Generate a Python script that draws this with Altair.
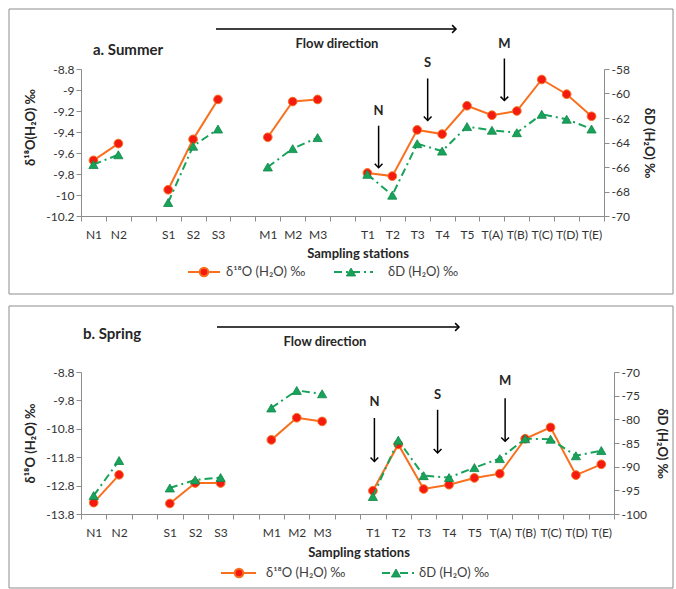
import altair as alt
import pandas as pd

FONT = "Lato"
ORANGE = "#F8701E"
RED = "#F41A10"
GREEN = "#17A35A"
GREEN_DARK = "#12874A"
AXIS_GREY = "#8C8C8C"
TEXT = "#262626"

# slot layout of the categorical x axis ("" = empty gap slot)
slots = ["N1", "N2", "", "S1", "S2", "S3", "", "M1", "M2", "M3", "",
         "T1", "T2", "T3", "T4", "T5", "T(A)", "T(B)", "T(C)", "T(D)", "T(E)"]
stations = [s for s in slots if s]

# a. Summer
summer_o18 = [-9.67, -9.51, -9.95, -9.47, -9.09, -9.45, -9.11, -9.09,
              -9.79, -9.82, -9.38, -9.42, -9.15, -9.24, -9.20, -8.90, -9.04, -9.25]
summer_dD = [-65.8, -65.0, -68.9, -64.3, -62.9, -66.0, -64.5, -63.6,
             -66.6, -68.3, -64.1, -64.7, -62.7, -63.0, -63.2, -61.7, -62.1, -62.9]
# b. Spring
spring_o18 = [-13.40, -12.42, -13.43, -12.71, -12.71, -11.19, -10.41, -10.54,
              -12.98, -11.35, -12.92, -12.77, -12.53, -12.38, -11.15, -10.75, -12.43, -12.05]
spring_dD = [-96.1, -88.7, -94.5, -92.8, -92.3, -77.6, -73.9, -74.6,
             -96.3, -84.4, -91.9, -92.3, -90.2, -88.3, -84.1, -84.2, -87.7, -86.6]

# N / S / M arrow annotations (x in slot units, y in left-axis units)
arrow_labels = ["N", "S", "M"]
summer_arrow_x = [11.45, 13.42, 16.5]
summer_arrow_top = [-9.34, -8.89, -8.70]
summer_arrow_bot = [-9.74, -9.29, -9.10]
summer_label_y = [-9.20, -8.74, -8.56]
spring_arrow_x = [11.06, 13.55, 16.21]
spring_arrow_top = [-10.42, -10.13, -9.72]
spring_arrow_bot = [-11.95, -11.65, -11.24]
spring_label_y = [-9.84, -9.60, -9.13]

ONE = pd.DataFrame({"k": [0]})
ARROWHEAD_DOWN = "M-1,-1L0,0L1,-1"
ARROWHEAD_RIGHT = "M-1,-1L0,0L-1,1"


def dtext(txt, x, y, size=13, weight="bold", align="center", color=TEXT):
    return alt.Chart(ONE).mark_text(
        text=txt, fontSize=size, fontWeight=weight, align=align,
        baseline="middle", font=FONT, color=color
    ).encode(x=alt.value(x), y=alt.value(y))


def panel(o18, dD, ldom, lvals, lfmt, rdom, rvals, ltitle, rtitle, W, H,
          ax_x, ax_top, ax_bot, lab_y, deco, rpad, ltitle_y):
    df = pd.DataFrame({
        "station": stations,
        "pos": [slots.index(s) for s in stations],
        "grp": [s[0] for s in stations],
        "o18": o18,
        "dD": dD,
    })
    ann = pd.DataFrame({"ax": ax_x, "top": ax_top, "bot": ax_bot, "ly": lab_y, "lab": arrow_labels})

    xs = alt.Scale(domain=[-0.5, len(slots) - 0.5], nice=False, zero=False)
    ls = alt.Scale(domain=ldom, nice=False, zero=False)
    rs = alt.Scale(domain=rdom, nice=False, zero=False)
    names_js = "[" + ",".join("'%s'" % s for s in slots) + "]"
    xvals = [i - 0.5 for i in range(len(slots) + 1)]
    xaxis = alt.Axis(
        values=xvals, tickCount=len(xvals) + 5,
        labelExpr=names_js + "[datum.value + 0.5] || ''",
        labelOffset=W / len(slots) / 2, labelFlush=False, labelOverlap=False,
        labelPadding=8, title=None, grid=False,
    )
    laxis = alt.Axis(values=lvals, tickCount=len(lvals) + 5, labelOverlap=False,
                     labelExpr="replace(format(datum.value, '%s'), '\u2212', '-')" % lfmt,
                     title=ltitle, grid=False, titlePadding=8, titleY=ltitle_y)
    raxis = alt.Axis(values=rvals, tickCount=len(rvals) + 5, labelOverlap=False,
                     labelExpr="replace(format(datum.value, '~d'), '\u2212', '-')",
                     title=rtitle, grid=False, orient="right", titlePadding=rpad)

    lineL = alt.Chart(df).mark_line(color=ORANGE, strokeWidth=2).encode(
        x=alt.X("pos:Q", scale=xs, axis=xaxis),
        y=alt.Y("o18:Q", scale=ls, axis=laxis),
        detail="grp:N",
    )
    ptsL = alt.Chart(df).mark_point(shape="circle", filled=True, size=75, fill=RED,
                                   stroke=ORANGE, strokeWidth=1, opacity=1).encode(
        x=alt.X("pos:Q", scale=xs), y=alt.Y("o18:Q", scale=ls))
    rule = alt.Chart(ann).mark_rule(color="black", strokeWidth=1.5).encode(
        x=alt.X("ax:Q", scale=xs), y=alt.Y("top:Q", scale=ls), y2="bot:Q")
    head = alt.Chart(ann).mark_point(shape=ARROWHEAD_DOWN, size=60, filled=False,
                                    stroke="black", strokeWidth=1.5, opacity=1).encode(
        x=alt.X("ax:Q", scale=xs), y=alt.Y("bot:Q", scale=ls))
    labs = alt.Chart(ann).mark_text(fontWeight="bold", fontSize=13, font=FONT, color=TEXT,
                                   baseline="middle").encode(
        x=alt.X("ax:Q", scale=xs), y=alt.Y("ly:Q", scale=ls), text="lab:N")
    left = alt.layer(lineL, ptsL, rule, head, labs)

    lineR = alt.Chart(df).mark_line(color=GREEN, strokeWidth=2, strokeDash=[8, 4, 2, 4]).encode(
        x=alt.X("pos:Q", scale=xs),
        y=alt.Y("dD:Q", scale=rs, axis=raxis),
        detail="grp:N",
    )
    ptsR = alt.Chart(df).mark_point(shape="triangle-up", filled=True, size=85, fill=GREEN,
                                   stroke=GREEN_DARK, strokeWidth=0.8, opacity=1).encode(
        x=alt.X("pos:Q", scale=xs), y=alt.Y("dD:Q", scale=rs))
    right = alt.layer(lineR, ptsR)

    d = deco
    box = alt.Chart(ONE).mark_rect(fill="transparent", stroke=AXIS_GREY, strokeWidth=1).encode(
        x=alt.value(-72), x2=alt.value(592), y=alt.value(d["box_top"]), y2=alt.value(d["box_bot"]))
    title = dtext(d["title"], d["title_x"], d["title_y"], size=15, align="left")
    flow_line = alt.Chart(ONE).mark_rule(color="black", strokeWidth=1.5).encode(
        x=alt.value(d["flow_x1"]), x2=alt.value(d["flow_x2"]), y=alt.value(d["flow_y"]))
    flow_head = alt.Chart(ONE).mark_point(shape=ARROWHEAD_RIGHT, size=60, filled=False,
                                         stroke="black", strokeWidth=1.5, opacity=1).encode(
        x=alt.value(d["flow_x2"]), y=alt.value(d["flow_y"]))
    flow_txt = dtext("Flow direction", d["flow_tx"], d["flow_ty"])
    xtitle = dtext("Sampling stations", d["xt_x"], d["xt_y"])
    ly = d["leg_y"]
    legO_line = alt.Chart(ONE).mark_rule(color=ORANGE, strokeWidth=2).encode(
        x=alt.value(d["legO"][0]), x2=alt.value(d["legO"][2]), y=alt.value(ly))
    legO_pt = alt.Chart(ONE).mark_point(shape="circle", filled=True, size=75, fill=RED,
                                       stroke=ORANGE, opacity=1).encode(
        x=alt.value(d["legO"][1]), y=alt.value(ly))
    legO_txt = dtext("δ¹⁸O (H₂O) ‰", d["legO"][3], ly, size=13, weight="normal",
                     align="left", color="#404040")
    legG_line = alt.Chart(ONE).mark_rule(color=GREEN, strokeWidth=2, strokeDash=[8, 4, 2, 4]).encode(
        x=alt.value(d["legG"][0]), x2=alt.value(d["legG"][2]), y=alt.value(ly))
    legG_pt = alt.Chart(ONE).mark_point(shape="triangle-up", filled=True, size=85, fill=GREEN,
                                       stroke=GREEN_DARK, strokeWidth=0.8, opacity=1).encode(
        x=alt.value(d["legG"][1]), y=alt.value(ly))
    legG_txt = dtext("δD (H₂O) ‰", d["legG"][3], ly, size=13, weight="normal",
                     align="left", color="#404040")

    return alt.layer(
        box, left, right, title, flow_line, flow_head, flow_txt, xtitle,
        legO_line, legO_pt, legO_txt, legG_line, legG_pt, legG_txt,
    ).resolve_scale(y="independent").properties(width=W, height=H)


summer = panel(
    summer_o18, summer_dD,
    [-10.2, -8.8], [-10.2, -10.0, -9.8, -9.6, -9.4, -9.2, -9.0, -8.8], ".1~f",
    [-70, -58], [-70, -68, -66, -64, -62, -60, -58],
    "δ¹⁸O(H₂O) ‰", "δD (H₂O) ‰", 523, 147,
    summer_arrow_x, summer_arrow_top, summer_arrow_bot, summer_label_y,
    dict(box_top=-60, box_bot=225, title="a. Summer", title_x=12, title_y=-19,
         flow_x1=135, flow_x2=375, flow_y=-40, flow_tx=256, flow_ty=-25,
         xt_x=277, xt_y=185, leg_y=203,
         legO=[107, 123, 139, 145], legG=[253, 270, 292, 307]),
    rpad=12, ltitle_y=58,
)

spring = panel(
    spring_o18, spring_dD,
    [-13.8, -8.8], [-13.8, -12.8, -11.8, -10.8, -9.8, -8.8], ".1~f",
    [-100, -70], [-100, -95, -90, -85, -80, -75, -70],
    "δ¹⁸O (H₂O) ‰", "δD (H₂O) ‰", 533, 142,
    spring_arrow_x, spring_arrow_top, spring_arrow_bot, spring_label_y,
    dict(box_top=-66, box_bot=216, title="b. Spring", title_x=2, title_y=-38,
         flow_x1=136, flow_x2=378, flow_y=-45, flow_tx=244, flow_ty=-30,
         xt_x=278, xt_y=181, leg_y=201,
         legO=[140, 158, 175, 185], legG=[301, 315, 334, 338]),
    rpad=8, ltitle_y=71,
)

chart = alt.vconcat(summer, spring, spacing=10).properties(
    padding={"left": 8, "top": 8, "right": 0, "bottom": 0}
).configure_view(stroke=None).configure_axis(
    labelFont=FONT, titleFont=FONT, labelFontSize=12, titleFontSize=13,
    labelColor="#333333", titleColor=TEXT, titleFontWeight="bold",
    domainColor=AXIS_GREY, tickColor=AXIS_GREY, tickSize=5,
)

chart.save("out.html", embed_options={"renderer": "svg", "actions": False})
